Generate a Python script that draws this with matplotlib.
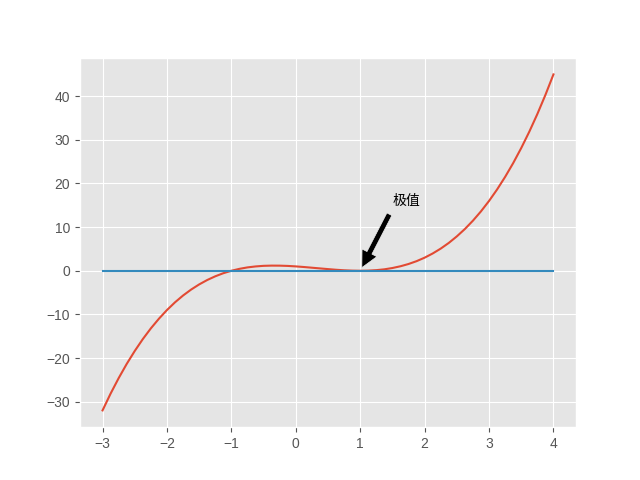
import matplotlib
matplotlib.use('Agg')
import matplotlib.pyplot as plt

plt.style.use('ggplot')
plt.rcParams['font.family'] = ['Liberation Sans', 'Noto Sans CJK SC', 'DejaVu Sans']

# curve values
x = [-3, -2.875, -2.75, -2.625, -2.5, -2.375, -2.25, -2.125, -2, -1.875,
     -1.75, -1.625, -1.5, -1.375, -1.25, -1.125, -1, -0.875, -0.75, -0.625,
     -0.5, -0.375, -0.25, -0.125, 0, 0.125, 0.25, 0.375, 0.5, 0.625, 0.75,
     0.875, 1, 1.125, 1.25, 1.375, 1.5, 1.625, 1.75, 1.875, 2, 2.125, 2.25,
     2.375, 2.5, 2.625, 2.75, 2.875, 3, 3.125, 3.25, 3.375, 3.5, 3.625, 3.75,
     3.875, 4]
y = [-32, -28.15, -24.61, -21.35, -18.38, -15.66, -13.2, -10.99, -9, -7.23,
     -5.67, -4.31, -3.13, -2.12, -1.27, -0.56, 0, 0.44, 0.77, 0.99,
     1.13, 1.18, 1.17, 1.11, 1, 0.86, 0.7, 0.54, 0.38, 0.23, 0.11,
     0.03, 0, 0.03, 0.14, 0.33, 0.63, 1.03, 1.55, 2.2, 3, 3.96, 5.08,
     6.38, 7.88, 9.57, 11.48, 13.62, 16, 18.63, 21.52, 24.68, 28.13, 31.87, 35.92,
     40.29, 45]
zero_line = [0] * len(x)

label = '极值'
point = (1, 0)
text_pos = (1.5, 15)

fig, ax = plt.subplots(figsize=(6.4, 4.8), dpi=100)
ax.plot(x, y)
ax.plot(x, zero_line)
ax.annotate(label, xy=point, xytext=text_pos,
            arrowprops=dict(facecolor='black', shrink=0.05))

fig.savefig('out.png')
